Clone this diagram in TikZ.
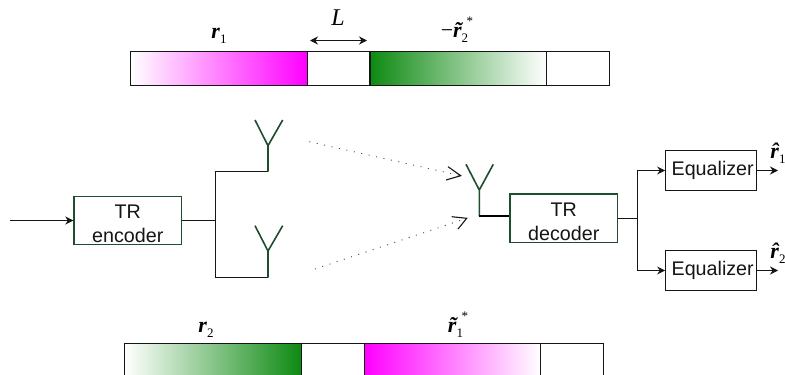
\documentclass[tikz,border=0pt]{standalone}
\usepackage{fontspec}
\setmainfont{Liberation Serif}
\setsansfont{Liberation Sans}
\usetikzlibrary{arrows.meta,positioning}
\definecolor{mag}{HTML}{FF00FF}
\definecolor{grn}{HTML}{0E8A12}
\definecolor{dgreen}{HTML}{1E4D30}
\definecolor{lineblk}{HTML}{151515}
\newcommand{\rv}{{\bfseries\itshape r}}
\newcommand{\rt}{{\bfseries\itshape\~{r}}}
\newcommand{\rh}{{\bfseries\itshape\^{r}}}
\newcommand{\sbx}[1]{\raisebox{-5pt}{\fontsize{13}{13}\selectfont #1}}
\newcommand{\spx}[1]{\raisebox{12pt}{\fontsize{13}{13}\selectfont #1}}
\tikzset{
  seg/.style={draw=lineblk,line width=1.1pt,minimum height=34,inner sep=0,anchor=north west},
  dbox/.style={draw=dgreen,line width=1.3pt,inner sep=0,font=\sffamily\fontsize{19.7}{24}\selectfont,align=center,text=lineblk},
  ebox/.style={draw=lineblk,line width=1.1pt,inner sep=0,font=\sffamily\fontsize{19.7}{24}\selectfont,minimum width=91,minimum height=39.6,text=lineblk},
  wire/.style={draw=lineblk,line width=1.1pt},
  arr/.style={wire,-{Stealth[length=8,width=8]}},
  ant/.style={draw=dgreen,line width=1.6pt},
  lab/.style={inner sep=0,anchor=base,font=\fontsize{22}{22}\selectfont},
  dots/.style={draw=black!70,line width=0.9pt,dash pattern=on 1 off 6.6},
  barb/.style={draw=lineblk,line width=1.1pt}
}
\begin{document}
\begin{tikzpicture}[x=1pt,y=-1pt]
\useasboundingbox (0,0) rectangle (785,375);
\clip (0,0) rectangle (785,375);
\fill[white] (0,0) rectangle (785,375);
% top bar
\node[seg,minimum width=176.5,left color=white,right color=mag] (t1) at (130.3,51) {};
\node[seg,minimum width=62.6] (t2) at (306.8,51) {};
\node[seg,minimum width=176.6,left color=grn,right color=white] (t3) at (369.4,51) {};
\node[seg,minimum width=63] (t4) at (546,51) {};
% bottom bar
\node[seg,minimum width=176.4,left color=white,right color=grn] (b1) at (124.3,343.3) {};
\node[seg,minimum width=63] (b2) at (300.7,343.3) {};
\node[seg,minimum width=176.3,left color=mag,right color=white] (b3) at (363.7,343.3) {};
\node[seg,minimum width=62.8] (b4) at (540,343.3) {};
% labels
\node[lab] (l1) at (219,38) {\rv\sbx{1}};
\node[lab] (l2) at (457,37) {−\rt\sbx{2}\hspace{-1.5pt}\spx{*}};
\node[lab] (l3) at (206,332) {\rv\sbx{2}};
\node[lab] (l4) at (458,332) {\rt\sbx{1}\hspace{-1.5pt}\spx{*}};
\node[lab,font=\itshape\fontsize{24}{24}\selectfont] (lL) at (338,25.7) {L};
\coordinate (La) at (310,40.5);
\coordinate (Lb) at (367,40.5);
\draw[wire,{Stealth[length=8,width=8]}-{Stealth[length=8,width=8]}] (La) -- (Lb);
% encoder side
\coordinate (in) at (10,220.5);
\node[dbox,minimum width=107.7,minimum height=48] (enc) at (127.8,220.5) {\rule{0pt}{20pt}TR\\encoder};
\draw[arr] (in) -- (enc);
\coordinate (split) at (215.5,220.5);
\coordinate (au) at (268,171.5);
\coordinate (ad) at (268,277.5);
\draw[wire] (enc) -- (split);
\draw[wire] (au) -- (split |- au) -- (split |- ad) -- (ad);
% tx antennas
\coordinate (auj) at (268,145.7);
\coordinate (adj) at (268,251);
\draw[ant] (au) -- (auj) -- (255,120) (auj) -- (282.7,120);
\draw[ant] (ad) -- (adj) -- (255,225.7) (adj) -- (282.7,225.7);
% rx antenna
\coordinate (rb) at (479.3,216);
\coordinate (rj) at (479.3,190);
\draw[ant] (rb) -- (rj) -- (466,164.3) (rj) -- (493.3,164.3);
\node[dbox,minimum width=107.7,minimum height=48.3] (dec) at (563.8,218.2) {\rule{0pt}{20pt}TR\\decoder};
\draw[draw=black,line width=1.9pt] (rb) -- (rb -| dec.west);
% dotted
\coordinate (d1) at (309.3,141.7);
\coordinate (d2) at (460.7,175.7);
\coordinate (d3) at (315,269);
\coordinate (d4) at (466.7,218.3);
\draw[dots] (d1) -- (d2);
\draw[dots] (d3) -- (d4);
\draw[barb] (448,166.7) -- (d2) -- (446,180);
\draw[barb] (451.7,216.7) -- (d4) -- (458,229);
% decoder side
\node[ebox] (e1) at (711.2,170.5) {\hspace*{3pt}Equalizer};
\node[ebox] (e2) at (711.2,270.5) {\hspace*{3pt}Equalizer};
\coordinate (ds) at (637.5,218.5);
\draw[wire] (dec.east |- ds) -- (ds);
\draw[arr] (ds) |- (e1);
\draw[arr] (ds) |- (e2);
\coordinate (o1) at (778,170.5);
\coordinate (o2) at (778,270.5);
\draw[arr] (e1) -- (o1);
\draw[arr] (e2) -- (o2);
\node[lab] (h1) at (778,158) {\rh\sbx{1}};
\node[lab] (h2) at (778,258) {\rh\sbx{2}};
\end{tikzpicture}
\end{document}
